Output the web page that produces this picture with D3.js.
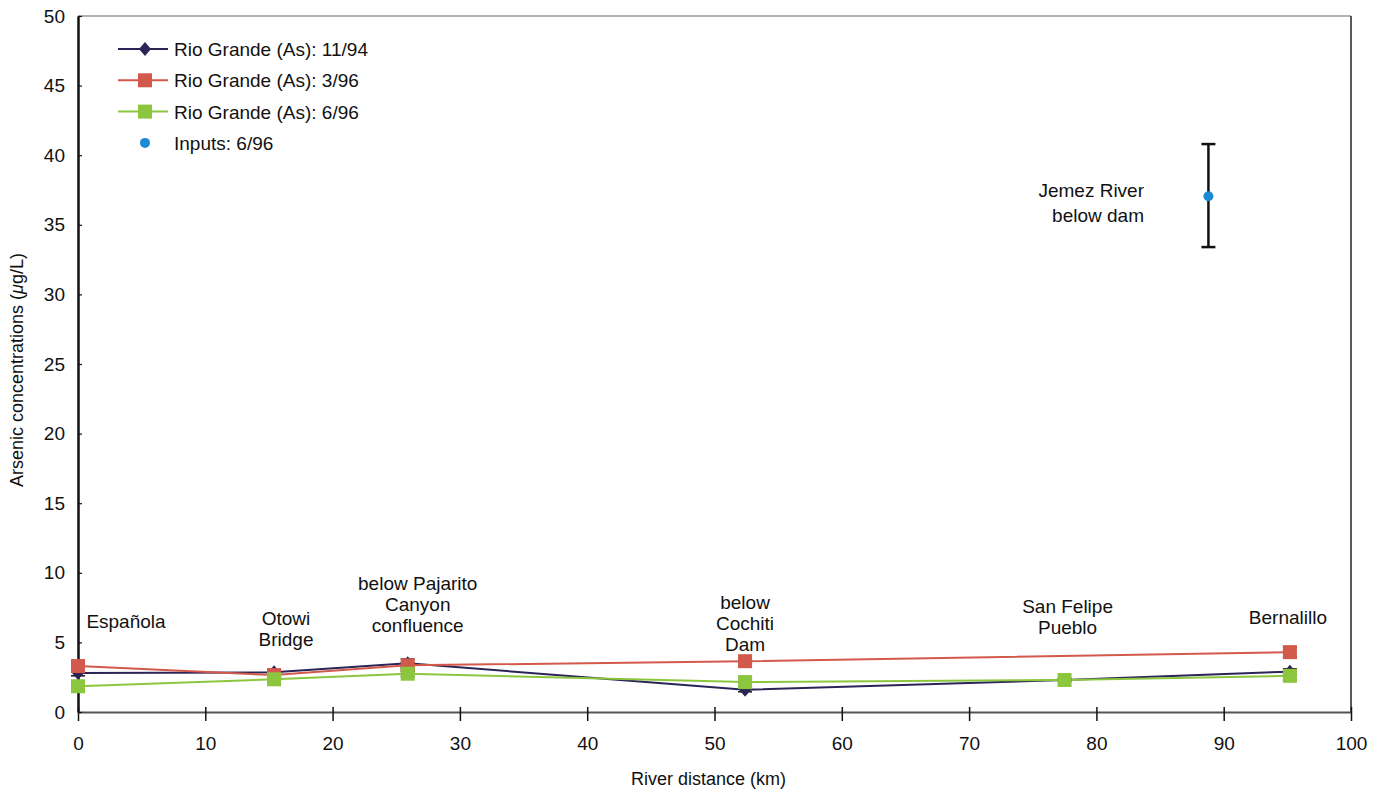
<!DOCTYPE html>
<html><head><meta charset="utf-8">
<script src="https://cdn.jsdelivr.net/npm/d3@7"></script>
<style>body{margin:0;background:#fff;} text{font-family:"Liberation Sans",Arial,sans-serif;fill:#111;}</style>
</head><body><svg id="c" width="1378" height="794"></svg>
<script>
const xTicks=[0,10,20,30,40,50,60,70,80,90,100];
const yTicks=[0,5,10,15,20,25,30,35,40,45,50];
const dist=[0,15.4,25.9,52.4,77.5,95.2];
const s1194=[2.8,2.85,3.5,1.6,2.3,2.9];
const s1194err=[0.2,0.2,0.3,0.15,0,0.2];
const s0396=[3.3,2.65,3.35,3.65,null,4.3];
const s0396err=[0.2,0.2,0.2,0.15,null,0.35];
const s0696=[1.85,2.35,2.75,2.15,2.3,2.6];
const s0696err=[0.2,0.2,0.2,0.3,0.1,0.3];
const inputX=[88.8], inputY=[37.05], inputLo=[33.4], inputHi=[40.8];
const siteLabels=[
 {x:0,lines:["Española"],dx:48,y:6.05},
 {x:15.4,lines:["Otowi","Bridge"],dx:12,y:6.25},
 {x:25.9,lines:["below Pajarito","Canyon","confluence"],dx:10,y:8.8},
 {x:52.4,lines:["below","Cochiti","Dam"],dx:0,y:7.4},
 {x:77.5,lines:["San Felipe","Pueblo"],dx:3,y:7.1},
 {x:95.2,lines:["Bernalillo"],dx:-2,y:6.3}
];
const seriesNames=["Rio Grande (As): 11/94","Rio Grande (As): 3/96","Rio Grande (As): 6/96","Inputs: 6/96"];
const colors=["#2a2457","#d2594b","#8cc63f","#1a8ad6"];

const svg=d3.select("#c");
const L=78,R=1351,T=16,B=712;
const FS="19px";
const x=d3.scaleLinear().domain([0,100]).range([L,R]);
const y=d3.scaleLinear().domain([0,50]).range([B,T]);

// frame
svg.append("line").attr("x1",L).attr("x2",R).attr("y1",T).attr("y2",T).attr("stroke","#999").attr("stroke-width",1.5);
svg.append("line").attr("x1",R).attr("x2",R).attr("y1",T).attr("y2",B).attr("stroke","#222").attr("stroke-width",1.5);

const xa=svg.append("g").attr("transform",`translate(0,${B})`).call(d3.axisBottom(x).tickValues(xTicks).tickSize(9).tickPadding(16).tickSizeOuter(0));
xa.select(".domain").attr("stroke","#555").attr("stroke-width",2);
xa.selectAll(".tick line").attr("stroke","#111").attr("stroke-width",1.5).attr("y1",-5);
xa.selectAll("text").style("font-size",FS).attr("fill","#111");
const ya=svg.append("g").attr("transform",`translate(${L},0)`).call(d3.axisLeft(y).tickValues(yTicks).tickSize(7).tickPadding(6).tickSizeOuter(0));
ya.select(".domain").attr("stroke","#111").attr("stroke-width",2.5);
ya.selectAll(".tick line").attr("stroke","#111").attr("stroke-width",1.2).attr("x2",4);
ya.selectAll("text").style("font-size",FS).attr("fill","#111");

svg.append("text").attr("x",(L+R)/2-6).attr("y",785).attr("text-anchor","middle").style("font-size","18px").text("River distance (km)");
const yt=svg.append("text").attr("transform",`translate(23,${(T+B)/2+6}) rotate(-90)`).attr("text-anchor","middle").style("font-size","18px");
yt.append("tspan").text("Arsenic concentrations (");
yt.append("tspan").style("font-style","italic").text("μ");
yt.append("tspan").text("g/L)");

const diamond="M0,-7L6,0L0,7L-6,0Z";
function drawSeries(vals,errs,color,marker){
  const pts=dist.map((d,i)=>({x:d,y:vals[i],e:errs[i]})).filter(p=>p.y!=null);
  svg.append("path").datum(pts).attr("fill","none").attr("stroke",color).attr("stroke-width",2)
    .attr("d",d3.line().x(p=>x(p.x)).y(p=>y(p.y)));
  const g=svg.append("g");
  pts.forEach(p=>{
    if(p.e>0){
      g.append("line").attr("x1",x(p.x)).attr("x2",x(p.x)).attr("y1",y(p.y-p.e)).attr("y2",y(p.y+p.e)).attr("stroke","#111").attr("stroke-width",1.5);
      [p.y-p.e,p.y+p.e].forEach(v=>g.append("line").attr("x1",x(p.x)-7).attr("x2",x(p.x)+7).attr("y1",y(v)).attr("y2",y(v)).attr("stroke","#111").attr("stroke-width",1.5));
    }
    if(marker==="diamond"){
      g.append("path").attr("d",diamond).attr("transform",`translate(${x(p.x)},${y(p.y)})`).attr("fill",color);
    } else {
      g.append("rect").attr("x",x(p.x)-7).attr("y",y(p.y)-7).attr("width",14).attr("height",14).attr("fill",color);
    }
  });
}
drawSeries(s1194,s1194err,colors[0],"diamond");
drawSeries(s0396,s0396err,colors[1],"square");
drawSeries(s0696,s0696err,colors[2],"square");

// input point
inputX.forEach((v,i)=>{
  const cx=x(v);
  svg.append("line").attr("x1",cx).attr("x2",cx).attr("y1",y(inputLo[i])).attr("y2",y(inputHi[i])).attr("stroke","#111").attr("stroke-width",2.5);
  [inputLo[i],inputHi[i]].forEach(w=>svg.append("line").attr("x1",cx-7).attr("x2",cx+7).attr("y1",y(w)).attr("y2",y(w)).attr("stroke","#111").attr("stroke-width",2.5));
  svg.append("circle").attr("cx",cx).attr("cy",y(inputY[i])).attr("r",5).attr("fill",colors[3]);
});
const jm=svg.append("text").attr("x",1144).attr("y",197).attr("text-anchor","end").style("font-size",FS);
jm.append("tspan").attr("x",1144).attr("dy",0).text("Jemez River");
jm.append("tspan").attr("x",1144).attr("dy",25).text("below dam");

// site labels
siteLabels.forEach(s=>{
  const t=svg.append("text").attr("text-anchor","middle").style("font-size",FS);
  const cx=x(s.x)+s.dx;
  const base=y(s.y);
  s.lines.forEach((ln,i)=>t.append("tspan").attr("x",cx).attr("y",base+i*21).text(ln));
});

// legend
const lg=svg.append("g");
seriesNames.forEach((nm,i)=>{
  const yy=49+i*31.3;
  if(i<3){
    lg.append("line").attr("x1",118).attr("x2",168).attr("y1",yy).attr("y2",yy).attr("stroke",colors[i]).attr("stroke-width",2);
    if(i===0) lg.append("path").attr("d",diamond).attr("transform",`translate(145,${yy})`).attr("fill",colors[i]);
    else lg.append("rect").attr("x",138).attr("y",yy-7).attr("width",14).attr("height",14).attr("fill",colors[i]);
  } else {
    lg.append("circle").attr("cx",145).attr("cy",yy).attr("r",5).attr("fill",colors[i]);
  }
  lg.append("text").attr("x",174).attr("y",yy+7).style("font-size",FS).text(nm);
});
</script></body></html>
